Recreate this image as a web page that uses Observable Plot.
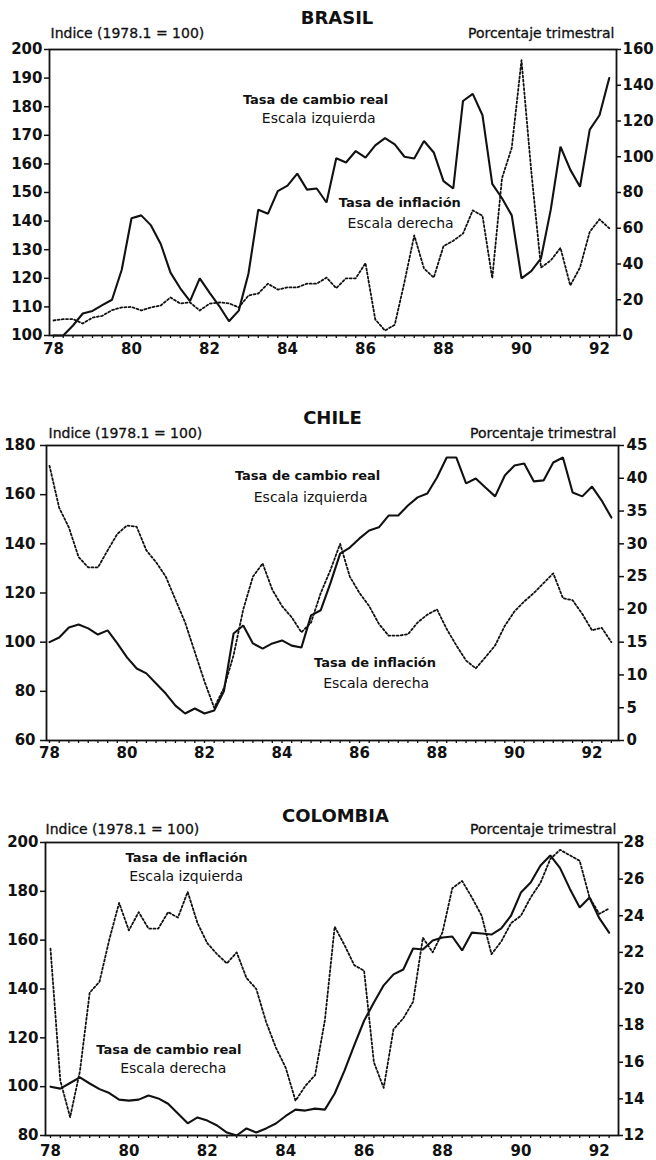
<!DOCTYPE html>
<html><head><meta charset="utf-8">
<script src="https://cdn.jsdelivr.net/npm/d3@7"></script>
<script src="https://cdn.jsdelivr.net/npm/@observablehq/plot@0.6"></script>
<style>
html,body{margin:0;padding:0;background:#fff;}
body{width:656px;height:1160px;position:relative;overflow:hidden;}
.panel{position:absolute;left:0;width:656px;}
</style></head><body>
<div id="p1" class="panel" style="top:0px"></div>
<div id="p2" class="panel" style="top:390px"></div>
<div id="p3" class="panel" style="top:790px"></div>
<script>
// ---- shared axis labels ----
const yearTicks = [1978, 1980, 1982, 1984, 1986, 1988, 1990, 1992];
const yearLabels = ["78", "80", "82", "84", "86", "88", "90", "92"];
const leftHeader = "Indice (1978.1 = 100)";
const rightHeader = "Porcentaje trimestral";

// ---- BRASIL (quarterly from 1978.1) ----
const brasilTitle = "BRASIL";
const brasilLeftTicks = [100, 110, 120, 130, 140, 150, 160, 170, 180, 190, 200];
const brasilRightTicks = [0, 20, 40, 60, 80, 100, 120, 140, 160];
const brasilRER = [100, 100, 103.5, 107.7, 108.6, 110.6, 112.5, 123, 141, 142,
  138.5, 132, 122, 116.5, 112, 120, 115, 110.3, 105, 108.7,
  121.7, 144, 142.6, 150.5, 152.4, 156.6, 151, 151.4, 146.5, 162,
  160.5, 164.5, 162.2, 166.5, 169, 166.8, 162.5, 161.9, 168, 164,
  154, 151.4, 182, 184.5, 177, 153, 148, 142, 120, 122.5,
  127, 144, 166, 158, 152, 172, 177, 190];
const brasilInfl = [8.4, 9.2, 9.2, 6.7, 10, 11, 14.2, 15.7, 16, 14,
  15.7, 16.8, 21.3, 17.9, 18.5, 14, 17.8, 18.5, 18, 15.7,
  22.4, 23.5, 29, 25.7, 26.9, 26.9, 29, 29, 32.4, 26.5,
  32, 32, 40.5, 9, 2.8, 6, 30, 56, 37.5, 32.4,
  50, 53, 57, 70, 67, 32, 88, 105, 154, 92,
  38, 42, 49, 28, 38, 58, 65, 60];
const brasilNotes = [
  {t: 1984.72, v: 182.5, text: "Tasa de cambio real", bold: true},
  {t: 1984.80, v: 175.9, text: "Escala izquierda", bold: false},
  {t: 1986.88, v: 146.5, text: "Tasa de inflación", bold: true},
  {t: 1986.90, v: 139.2, text: "Escala derecha", bold: false}
];

// ---- CHILE ----
const chileTitle = "CHILE";
const chileLeftTicks = [60, 80, 100, 120, 140, 160, 180];
const chileRightTicks = [0, 5, 10, 15, 20, 25, 30, 35, 40, 45];
const chileRER = [100, 101.9, 106, 107.2, 105.6, 103.1, 104.8, 99.5, 93.8, 89.3,
  87.3, 83.2, 79.1, 74.2, 71, 73, 71, 72.2, 80, 103.5,
  106.8, 99.5, 97.4, 99.5, 100.7, 98.6, 97.8, 110.9, 113, 124,
  136, 138.5, 142.2, 145.4, 146.7, 151.5, 151.5, 155.6, 158.9, 160.5,
  167, 175.1, 175.1, 164.6, 166.6, 162.9, 159.3, 167.8, 171.9, 172.7,
  165.4, 165.8, 173.1, 175.1, 160.9, 159.3, 163.3, 157.6, 150.7];
const chileInfl = [41.9, 35.5, 32.5, 28, 26.4, 26.4, 29, 31.5, 32.8, 32.6,
  29, 27.2, 25, 21.5, 18, 13.5, 9, 5, 8, 13,
  20, 25, 27, 23, 20.5, 18.8, 16.5, 18, 22.5, 26,
  30, 25, 22.5, 20.5, 17.8, 16, 16, 16.2, 18, 19.2,
  20, 17, 14.5, 12.2, 11, 12.7, 14.5, 17.5, 19.7, 21.2,
  22.5, 24, 25.5, 21.7, 21.4, 19.3, 16.8, 17.2, 15];
const chileNotes = [
  {t: 1984.66, v: 167.8, text: "Tasa de cambio real", bold: true},
  {t: 1984.74, v: 158.9, text: "Escala izquierda", bold: false},
  {t: 1986.40, v: 91.7, text: "Tasa de inflación", bold: true},
  {t: 1986.43, v: 83.2, text: "Escala derecha", bold: false}
];

// ---- COLOMBIA ----
const colTitle = "COLOMBIA";
const colLeftTicks = [80, 100, 120, 140, 160, 180, 200];
const colRightTicks = [12, 14, 16, 18, 20, 22, 24, 26, 28];
const colRER = [100, 99.2, 101.5, 103.8, 101.3, 99, 97.4, 94.7, 94.3, 94.7,
  96.4, 95.2, 93, 89, 85, 87.4, 86.1, 84.1, 81.2, 80,
  82.9, 81.2, 82.9, 84.9, 88, 90.6, 90.2, 91, 90.6, 97.2,
  106.6, 117, 127, 134.5, 141.5, 146, 148, 156.6, 156.2, 159.9,
  161.1, 161.5, 155.8, 163.1, 162.7, 162.3, 164.8, 170.1, 179.5, 183.6,
  190.6, 194.7, 189.5, 181, 173.4, 177.5, 169, 163.1];
const colInfl = [22.2, 15, 13, 15.5, 19.8, 20.4, 22.7, 24.7, 23.2, 24.2,
  23.3, 23.3, 24.2, 23.9, 25.3, 23.6, 22.5, 21.9, 21.4, 22,
  20.6, 20, 18.2, 16.8, 15.7, 13.9, 14.7, 15.3, 18.3, 23.4,
  22.4, 21.3, 21, 16, 14.6, 17.8, 18.4, 19.3, 22.8, 22,
  23.1, 25.5, 25.9, 25, 24, 21.9, 22.6, 23.6, 24, 25,
  25.8, 27.1, 27.6, 27.3, 27, 25, 24.1, 24.4];
const colNotes = [
  {t: 1981.47, v: 193.8, text: "Tasa de inflación", bold: true},
  {t: 1981.46, v: 186.1, text: "Escala izquierda", bold: false},
  {t: 1981.02, v: 115.2, text: "Tasa de cambio real", bold: true},
  {t: 1981.13, v: 107.4, text: "Escala derecha", bold: false}
];

const FONT = "DejaVu Sans";

function makePanel(cfg) {
  const W = 656;
  const [l0, l1] = cfg.leftDomain, [r0, r1] = cfg.rightDomain;
  const toL = r => l0 + (r - r0) * (l1 - l0) / (r1 - r0);
  const toR = l => r0 + (l - l0) * (r1 - r0) / (l1 - l0);
  const series = (vals, right) => vals.map((v, i) => ({t: 1978 + i / 4, v: right ? toL(v) : v}));
  const xDomain = [1978 + (cfg.mLeft - cfg.x0) / cfg.ppy, 1978 + (W - cfg.mRight - cfg.x0) / cfg.ppy];
  const quarters = d3.range(Math.ceil(xDomain[0] * 4) / 4, xDomain[1], 0.25);
  const axisFont = {fontFamily: FONT, fontSize: 15, fontWeight: "bold"};
  return Plot.plot({
    width: W,
    height: cfg.height,
    marginTop: cfg.mTop,
    marginBottom: cfg.mBottom,
    marginLeft: cfg.mLeft,
    marginRight: cfg.mRight,
    style: {fontFamily: FONT, color: "#111", background: "#fff", overflow: "visible"},
    x: {domain: xDomain, label: null},
    y: {domain: cfg.leftDomain, label: null},
    marks: [
      Plot.frame({stroke: "#111", strokeWidth: 1.8}),
      Plot.axisY(cfg.leftTicks, {anchor: "left", label: null, tickSize: cfg.lTick, tickPadding: cfg.lPad, strokeWidth: 1.5, tickFormat: d => String(d), ...axisFont}),
      Plot.axisY(cfg.rightTicks.map(toL), {anchor: "right", label: null, tickSize: cfg.rTick, tickPadding: cfg.rPad, strokeWidth: 1.5, tickFormat: d => String(Math.round(toR(d))), ...axisFont}),
      Plot.axisX(quarters, {anchor: "bottom", label: null, tickSize: 3, strokeWidth: 1.3, tickFormat: () => ""}),
      Plot.axisX(yearTicks, {anchor: "bottom", label: null, tickSize: 0, tickPadding: cfg.xPad, tickFormat: d => yearLabels[yearTicks.indexOf(d)], ...axisFont}),
      Plot.lineY(series(cfg.dotted, true), {x: "t", y: "v", stroke: "#111", strokeWidth: 1.8, strokeDasharray: "2,2.2"}),
      Plot.lineY(series(cfg.solid, false), {x: "t", y: "v", stroke: "#111", strokeWidth: 2.1, strokeLinejoin: "miter"}),
      Plot.text(cfg.notes.filter(d => d.bold), {x: "t", y: "v", text: "text", fontFamily: FONT, fontSize: 13, fontWeight: "bold", fill: "#111", lineAnchor: "middle"}),
      Plot.text(cfg.notes.filter(d => !d.bold), {x: "t", y: "v", text: "text", fontFamily: FONT, fontSize: 14, fill: "#111", lineAnchor: "middle"}),
      Plot.text([cfg.title], {frameAnchor: "top", dx: cfg.titleDx, dy: cfg.titleDy, lineAnchor: "middle", fontFamily: FONT, fontSize: 18, fontWeight: "bold", fill: "#111"}),
      Plot.text([leftHeader], {frameAnchor: "top-left", textAnchor: "start", dx: cfg.hdrDx, dy: cfg.hdrDy, lineAnchor: "middle", fontFamily: FONT, fontSize: 14, fill: "#111", stroke: "#111", strokeWidth: 0.3}),
      Plot.text([rightHeader], {frameAnchor: "top-right", textAnchor: "end", dx: -2, dy: cfg.hdrDy, lineAnchor: "middle", fontFamily: FONT, fontSize: 14, fill: "#111", stroke: "#111", strokeWidth: 0.3})
    ]
  });
}

document.getElementById("p1").append(makePanel({
  height: 380, mTop: 49, mBottom: 45, mLeft: 49, mRight: 40, x0: 53, ppy: 39,
  leftDomain: [100, 200], rightDomain: [0, 160],
  leftTicks: brasilLeftTicks, rightTicks: brasilRightTicks,
  solid: brasilRER, dotted: brasilInfl, notes: brasilNotes,
  title: brasilTitle, titleDx: 4, titleDy: -31,
  hdrDx: 1, hdrDy: -16,
  lTick: 5, lPad: 2, rTick: 4, rPad: 2, xPad: 8
}));
document.getElementById("p2").append(makePanel({
  height: 390, mTop: 55, mBottom: 40, mLeft: 46, mRight: 38, x0: 49, ppy: 38.75,
  leftDomain: [60, 180], rightDomain: [0, 45],
  leftTicks: chileLeftTicks, rightTicks: chileRightTicks,
  solid: chileRER, dotted: chileInfl, notes: chileNotes,
  title: chileTitle, titleDx: 0, titleDy: -27,
  hdrDx: 2, hdrDy: -12,
  lTick: 6, lPad: 5, rTick: 5, rPad: 3, xPad: 7
}));
document.getElementById("p3").append(makePanel({
  height: 370, mTop: 52, mBottom: 25, mLeft: 45, mRight: 38, x0: 50, ppy: 39.2,
  leftDomain: [80, 200], rightDomain: [12, 28],
  leftTicks: colLeftTicks, rightTicks: colRightTicks,
  solid: colRER, dotted: colInfl, notes: colNotes,
  title: colTitle, titleDx: 3.5, titleDy: -26.5,
  hdrDx: 0, hdrDy: -13,
  lTick: 5, lPad: 2, rTick: 4, rPad: 1, xPad: 10
}));
</script>
</body></html>
